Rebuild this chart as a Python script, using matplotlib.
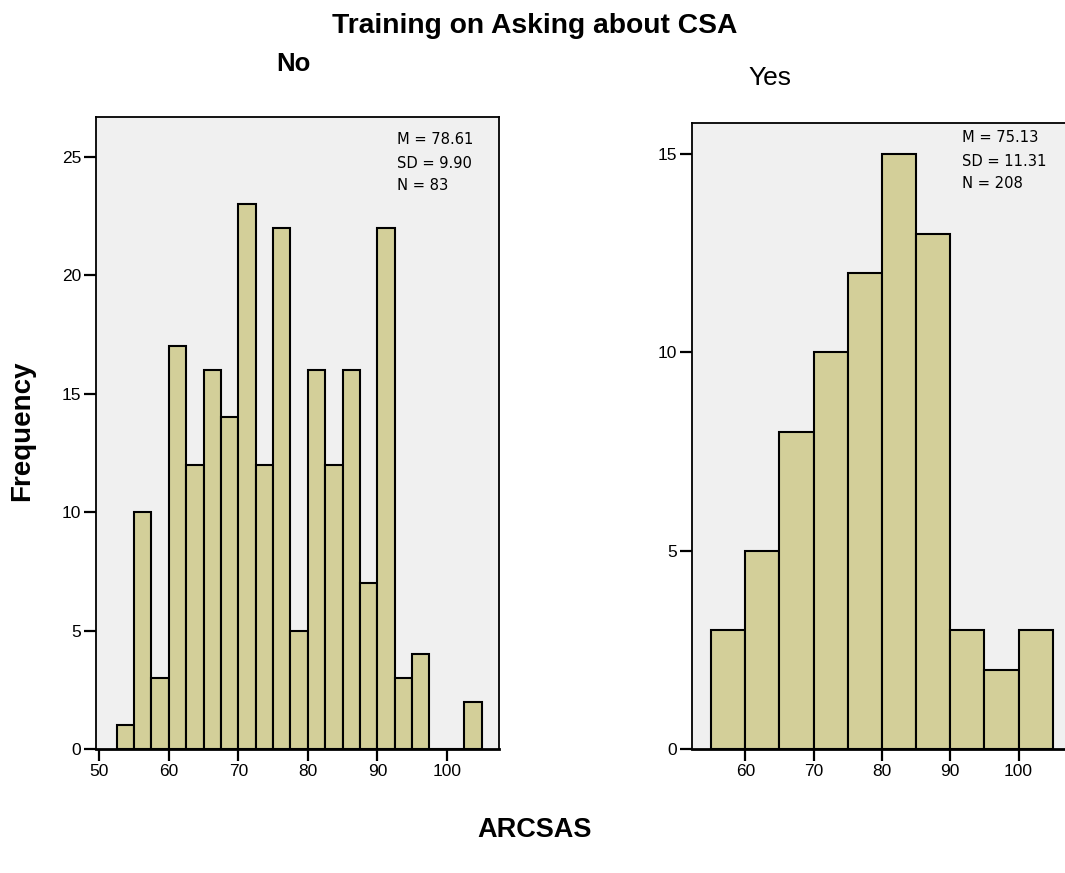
import numpy as np
import matplotlib
matplotlib.use("Agg")
import matplotlib.pyplot as plt
from matplotlib import font_manager

# ---- data -------------------------------------------------------------
no_bin_start = 52.5
no_bin_width = 2.5
no_counts = [1, 10, 3, 17, 12, 16, 14, 23, 12, 22, 5, 16, 12, 16, 7, 22, 3, 4, 0, 0, 2]
no_stats = ["M = 78.61", "SD = 9.90", "N = 83"]

yes_bin_start = 55
yes_bin_width = 5
yes_counts = [3, 5, 8, 10, 12, 15, 13, 3, 2, 3]
yes_stats = ["M = 75.13", "SD = 11.31", "N = 208"]

no_xticks = [50, 60, 70, 80, 90, 100]
no_yticks = [0, 5, 10, 15, 20, 25]
yes_xticks = [60, 70, 80, 90, 100]
yes_yticks = [0, 5, 10, 15]

# ---- style ------------------------------------------------------------
W, H = 1065, 873
BAR = "#D3CF99"
BG = "#F0F0F0"
plt.rcParams["font.family"] = ["Liberation Sans", "DejaVu Sans"]


def find_narrow_font():
    """Pick a condensed sans face for the summary box, if one is installed."""
    prefs = ["LiberationSansNarrow-Regular", "DejaVuSansCondensed.ttf",
             "NotoSans-Condensed", "Roboto_Condensed", "RobotoCondensed"]
    files = [f.fname for f in font_manager.fontManager.ttflist]
    for key in prefs:
        for fn in files:
            if key in fn and "Bold" not in fn and "Italic" not in fn and "Oblique" not in fn:
                return font_manager.FontProperties(fname=fn, size=11.8)
    for f in font_manager.fontManager.ttflist:
        if f.stretch in ("condensed", "semi-condensed") and f.style == "normal" \
                and f.weight in (400, "normal", "regular"):
            return font_manager.FontProperties(fname=f.fname, size=11.8)
    return font_manager.FontProperties(family="Liberation Sans", size=11.5)


narrow_fp = find_narrow_font()

fig = plt.figure(figsize=(W / 100, H / 100), dpi=100)


def px(x, y):
    return x / W, 1 - y / H


def draw_hist(ax, start, width, counts, xlim, ylim, xticks, yticks):
    counts = np.asarray(counts)
    lefts = start + width * np.arange(len(counts))
    ax.bar(lefts, counts, width=width, align="edge", color=BAR,
           edgecolor="black", linewidth=1.5, zorder=2)
    ax.set_facecolor(BG)
    ax.set_xlim(*xlim)
    ax.set_ylim(*ylim)
    ax.set_xticks(xticks)
    ax.set_yticks(yticks)
    ax.tick_params(axis="both", direction="out", length=8.5, width=1.6,
                   labelsize=12.5, pad=2, color="black")
    for side in ("left", "top", "right"):
        ax.spines[side].set_linewidth(1.3)
    ax.spines["bottom"].set_linewidth(2.0)
    ax.spines["bottom"].set_zorder(3)


# left panel: "No"
x0, y1 = px(96, 117)
x1, y0 = px(499, 749)
ax1 = fig.add_axes([x0, y0, x1 - x0, y1 - y0])
draw_hist(ax1, no_bin_start, no_bin_width, no_counts, (49.53, 107.5), (0, 26.68),
          no_xticks, no_yticks)

# right panel: "Yes" (frame runs past the right edge)
x0, y1 = px(691.7, 123.3)
x1, y0 = px(1073.2, 749)
ax2 = fig.add_axes([x0, y0, x1 - x0, y1 - y0])
draw_hist(ax2, yes_bin_start, yes_bin_width, yes_counts, (52.15, 108), (0, 15.78),
          yes_xticks, yes_yticks)

# summary statistics
for lines, xs, ys in ((no_stats, 397, [140, 163, 186]),
                      (yes_stats, 962, [137, 161, 184])):
    for s, yy in zip(lines, ys):
        fx, fy = px(xs, yy)
        fig.text(fx, fy, s, fontproperties=narrow_fp, ha="left", va="center")

# titles and axis labels
fig.text(*px(535, 26), "Training on Asking about CSA", fontsize=20.3,
         fontweight="bold", ha="center", va="center")
fig.text(*px(293, 64), "No", fontsize=18.5, fontweight="bold", ha="center", va="center")
fig.text(*px(770, 78), "Yes", fontsize=19, ha="center", va="center")
fig.text(*px(22, 431), "Frequency", fontsize=20, fontweight="bold",
         rotation=90, ha="center", va="center")
fig.text(*px(535, 830), "ARCSAS", fontsize=19.5, fontweight="bold",
         ha="center", va="center")

fig.savefig("out.png", dpi=100, facecolor="white")
